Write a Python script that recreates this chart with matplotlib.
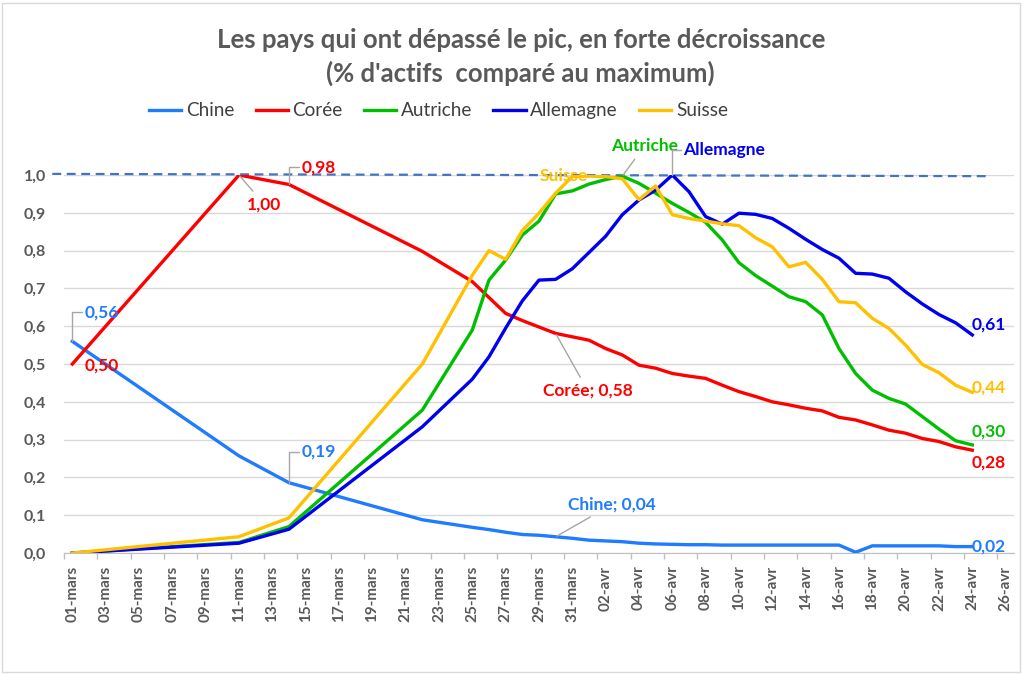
import matplotlib
matplotlib.use('Agg')
import matplotlib.pyplot as plt
from matplotlib.ticker import FuncFormatter, FixedLocator
from matplotlib.lines import Line2D
from matplotlib.patches import Rectangle

plt.rcParams['font.family'] = ['Lato', 'DejaVu Sans']

# jours depuis le 01-mars
days = [0, 10, 13, 21, 24, 25, 26, 27, 28, 29, 30, 31, 32, 33, 34, 35, 36, 37, 38, 39,
        40, 41, 42, 43, 44, 45, 46, 47, 48, 49, 50, 51, 52, 53, 54]

chine = [0.560, 0.257, 0.186, 0.088, 0.068, 0.062, 0.055, 0.049, 0.047, 0.043, 0.039,
         0.034, 0.032, 0.030, 0.026, 0.024, 0.023, 0.022, 0.022, 0.021, 0.021, 0.021,
         0.021, 0.021, 0.021, 0.021, 0.021, 0.002, 0.019, 0.019, 0.019, 0.019, 0.019,
         0.017, 0.017]
coree = [0.500, 1.000, 0.975, 0.798, 0.718, 0.676, 0.634, 0.615, 0.598, 0.581, 0.572,
         0.563, 0.541, 0.524, 0.497, 0.489, 0.475, 0.468, 0.462, 0.444, 0.427, 0.414,
         0.400, 0.392, 0.383, 0.376, 0.359, 0.352, 0.339, 0.325, 0.317, 0.303, 0.295,
         0.281, 0.272]
autriche = [0.0, 0.028, 0.070, 0.378, 0.590, 0.722, 0.775, 0.841, 0.878, 0.950, 0.958,
            0.976, 0.988, 0.997, 0.978, 0.952, 0.925, 0.901, 0.875, 0.828, 0.768, 0.734,
            0.706, 0.678, 0.665, 0.630, 0.541, 0.475, 0.431, 0.409, 0.394, 0.361, 0.328,
            0.297, 0.286]
allemagne = [0.0, 0.026, 0.063, 0.334, 0.460, 0.519, 0.595, 0.667, 0.722, 0.724, 0.752,
             0.795, 0.838, 0.895, 0.934, 0.960, 1.000, 0.956, 0.890, 0.870, 0.899, 0.896,
             0.885, 0.859, 0.830, 0.803, 0.780, 0.740, 0.738, 0.727, 0.691, 0.659, 0.631,
             0.609, 0.577]
suisse = [0.0, 0.043, 0.093, 0.500, 0.735, 0.800, 0.777, 0.853, 0.899, 0.952, 0.996,
          0.997, 0.996, 0.990, 0.935, 0.971, 0.895, 0.885, 0.878, 0.871, 0.866, 0.834,
          0.810, 0.757, 0.769, 0.724, 0.665, 0.662, 0.621, 0.594, 0.550, 0.499, 0.477,
          0.444, 0.425]

date_labels = ['01-mars', '03-mars', '05-mars', '07-mars', '09-mars', '11-mars', '13-mars',
               '15-mars', '17-mars', '19-mars', '21-mars', '23-mars', '25-mars', '27-mars',
               '29-mars', '31-mars', '02-avr', '04-avr', '06-avr', '08-avr', '10-avr',
               '12-avr', '14-avr', '16-avr', '18-avr', '20-avr', '22-avr', '24-avr', '26-avr']
label_days = list(range(0, 57, 2))

c_chine = '#1F7BFF'
c_coree = '#FF0000'
c_autriche = '#00BF00'
c_allemagne = '#0000F0'
c_suisse = '#FFC000'
grey_txt = '#595959'
lead = '#A6A6A6'

fig = plt.figure(figsize=(10.27, 6.75), dpi=100)
ax = fig.add_axes([0.0623, 0.1807, 0.925, 0.56])

series = [('Chine', chine, c_chine), ('Corée', coree, c_coree),
          ('Autriche', autriche, c_autriche), ('Allemagne', allemagne, c_allemagne),
          ('Suisse', suisse, c_suisse)]
for name, vals, col in series:
    ax.plot(days, vals, color=col, lw=2.4, label=name, solid_joinstyle='round', zorder=3)

# ligne du maximum
ax.plot([-1.2, 55], [1.003, 0.997], color='#4472C4', lw=1.6, ls=(0, (4, 2.5)),
        clip_on=False, zorder=2)

ax.set_xlim(-0.5, 56.5)
ax.set_ylim(0, 1.0)
ax.set_yticks([i / 10 for i in range(11)])
ax.yaxis.set_major_formatter(FuncFormatter(lambda v, p: ('%.1f' % v).replace('.', ',')))
ax.set_xticks(label_days)
ax.set_xticklabels(date_labels, rotation=90)
ax.xaxis.set_minor_locator(FixedLocator([d - 0.5 for d in range(0, 57, 2)]))
ax.tick_params(axis='x', which='major', length=0, pad=9, labelsize=11, labelcolor=grey_txt)
ax.tick_params(axis='x', which='minor', length=4.5, color='#BFBFBF', width=1)
ax.tick_params(axis='y', length=0, pad=13, labelsize=11.5, labelcolor=grey_txt)
for lab in ax.get_yticklabels():
    lab.set_fontweight('bold')
for lab in ax.get_xticklabels():
    lab.set_fontweight('bold')

ax.grid(axis='y', color='#D9D9D9', lw=1)
ax.set_axisbelow(True)
for s in ['top', 'right', 'left']:
    ax.spines[s].set_visible(False)
ax.spines['bottom'].set_color('#BFBFBF')

# titre et legende
fig.text(0.507, 0.94, "Les pays qui ont dépassé le pic, en forte décroissance",
         ha='center', va='center', fontsize=18.5, fontweight='bold', color=grey_txt)
fig.text(0.507, 0.891, "(% d'actifs  comparé au maximum)",
         ha='center', va='center', fontsize=18.5, fontweight='bold', color=grey_txt)
handles = [Line2D([], [], color=col, lw=2.4) for _, _, col in series]
fig.legend(handles, [n for n, _, _ in series], loc='center', ncol=5,
           bbox_to_anchor=(0.427, 0.836), frameon=False, fontsize=13.7,
           handlelength=1.7, handletextpad=0.25, columnspacing=1.1,
           labelcolor='#404040')


def px(dx, dy):
    return (dx * 0.72, dy * 0.72)


def label(txt, x, y, off, col, arrow=None, ha='left'):
    kw = {}
    if arrow == 'bracket':
        kw['arrowprops'] = dict(arrowstyle='-', color=lead, lw=1, relpos=(0, 0.5),
                                shrinkA=0, shrinkB=0,
                                connectionstyle='angle,angleA=0,angleB=90,rad=0')
    elif arrow == 'line':
        kw['arrowprops'] = dict(arrowstyle='-', color=lead, lw=1, shrinkA=2, shrinkB=1)
    ax.annotate(txt, xy=(x, y), xytext=px(*off), textcoords='offset points',
                ha=ha, va='center', color=col, fontsize=12.5, fontweight='bold',
                annotation_clip=False, zorder=5, **kw)


i29 = days.index(29)
i13 = days.index(13)
i10 = days.index(10)
label('0,56', days[0], chine[0], (12, 29), c_chine, 'bracket')
label('0,50', days[0], coree[0], (12, -1), c_coree)
label('1,00', days[i10], coree[i10], (25, -29), c_coree, 'line', ha='center')
label('0,98', days[i13], coree[i13], (13, 17), c_coree, 'bracket')
label('0,19', days[i13], chine[i13], (13, 31), c_chine, 'bracket')
label('Corée; 0,58', days[i29], coree[i29], (32, -57), c_coree, 'line', ha='center')
label('Chine; 0,04', days[i29], chine[i29], (56, 32), c_chine, 'line', ha='center')
label('Suisse', 29.5, 1.0, (0, -1), c_suisse, ha='center')
label('Autriche', days[days.index(33)], autriche[days.index(33)], (22, 30), c_autriche,
      'line', ha='center')
label('Allemagne', days[days.index(36)], allemagne[days.index(36)], (11, 25),
      c_allemagne, 'bracket')
label('0,61', days[-1], allemagne[-1], (-1, 10), c_allemagne)
label('0,44', days[-1], suisse[-1], (-1, 5), c_suisse)
label('0,30', days[-1], autriche[-1], (-1, 13), c_autriche)
label('0,28', days[-1], coree[-1], (-1, -12), c_coree)
label('0,02', days[-1], chine[-1], (-1, 0), c_chine)

fig.patches.append(Rectangle((0.002, 0.005), 0.991, 0.99, transform=fig.transFigure,
                             fill=False, edgecolor='#D9D9D9', lw=1))

fig.savefig('out.png', dpi=100)
